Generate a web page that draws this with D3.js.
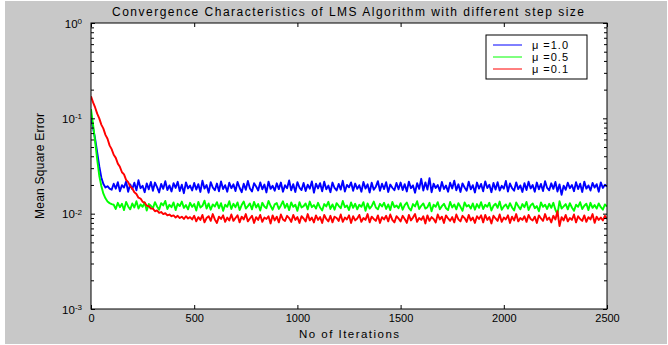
<!DOCTYPE html>
<html>
<head>
<meta charset="utf-8">
<script src="https://cdn.jsdelivr.net/npm/d3@7"></script>
<style>
  body { margin: 0; background: #fff; }
  svg { display: block; font-family: "Liberation Sans", Arial, sans-serif; }
</style>
</head>
<body>
<div id="chart"></div>
<script>
// iteration step between samples
const iterStep = 10;

// mean square error, in units of 1e-4, one value every 10 iterations (0..2500)
const mseMu10 = [
  1030, 790, 610, 440, 315, 240, 205, 188, 194, 183,
  178, 206, 183, 214, 172, 199, 188, 217, 170, 203, 181, 211, 176, 224, 185, 196, 168, 208, 180, 215,
  174, 212, 190, 167, 205, 182, 219, 177, 198, 171, 209, 186, 216, 173, 201, 164, 213, 184, 197, 175,
  210, 179, 204, 169, 222, 183, 200, 166, 214, 188, 176, 207, 172, 218, 181, 199, 170, 211, 185, 203,
  173, 215, 187, 168, 206, 178, 220, 184, 171, 209, 193, 175, 213, 180, 202, 167, 217, 182, 196, 174,
  208, 181, 212, 170, 199, 185, 223, 176, 204, 169, 214, 188, 177, 210, 173, 201, 183, 218, 166, 206,
  184, 209, 172, 216, 180, 197, 168, 212, 186, 175, 205, 179, 221, 171, 200, 189, 213, 174, 207, 182,
  199, 170, 215, 183, 203, 167, 211, 178, 192, 219, 174, 206, 181, 214, 169, 202, 187, 176, 210, 180,
  212, 177, 204, 171, 217, 185, 198, 166, 209, 182, 232, 175, 213, 179, 236, 168, 206, 186, 200, 173,
  215, 181, 197, 170, 211, 184, 222, 176, 203, 169, 208, 188, 174, 216, 180, 199, 167, 212, 183, 205,
  172, 218, 186, 201, 168, 210, 179, 214, 175, 196, 183, 220, 171, 207, 185, 174, 213, 181, 198, 169,
  209, 177, 216, 184, 200, 170, 212, 180, 205, 173, 219, 186, 176, 208, 182, 215, 171, 203, 158, 197,
  178, 211, 185, 200, 172, 214, 181, 206, 169, 217, 183, 198, 175, 210, 188, 204, 170, 213, 186, 201,
  192
];

const mseMu05 = [
  1250, 860, 570, 370, 250, 195, 162, 145, 134, 129, 126, 124,
  112, 130, 117, 127, 109, 133, 119, 111, 128, 116, 135, 113, 125, 118, 131, 108, 126, 121,
  114, 132, 119, 110, 129, 122, 136, 112, 124, 117, 131, 109, 127, 120, 134, 115, 123, 111, 130, 118,
  126, 108, 133, 116, 121, 137, 113, 128, 110, 125, 119, 132, 114, 129, 107, 124, 118, 135, 112, 127,
  117, 131, 109, 123, 134, 113, 120, 128, 111, 133, 116, 126, 108, 130, 119, 114, 136, 121, 110, 125,
  129, 112, 122, 135, 115, 127, 109, 131, 118, 124, 107, 132, 116, 120, 128, 111, 134, 117, 123, 113,
  130, 116, 108, 126, 119, 133, 112, 125, 110, 129, 121, 114, 136, 117, 122, 109, 131, 115, 127, 111,
  124, 118, 132, 107, 128, 113, 120, 134, 116, 111, 127, 119, 130, 112, 125, 109, 133, 117, 122, 114,
  129, 110, 123, 131, 115, 108, 126, 119, 135, 112, 121, 128, 113, 117, 130, 106, 124, 118, 132, 111,
  120, 127, 114, 109, 133, 116, 125, 111, 129, 118, 107, 131, 119, 123, 113, 128, 110, 126, 115, 132,
  112, 124, 118, 130, 108, 121, 127, 115, 134, 110, 119, 125, 113, 129, 116, 108, 131, 120, 111, 126,
  117, 133, 109, 122, 128, 114, 120, 106, 131, 118, 124, 112, 127, 115, 130, 110, 99, 135, 113, 119,
  126, 111, 129, 116, 107, 124, 118, 132, 112, 121, 127, 109, 130, 115, 123, 113, 128, 117, 110, 125,
  119
];

const mseMu01 = [
  1700, 1470, 1300, 1120, 1000, 860, 780, 670, 610, 520,
  475, 415, 385, 335, 310, 272, 258, 226, 214, 193,
  184, 168, 161, 147, 144, 133, 131, 121, 120, 113,
  113, 106, 108, 102, 104, 99, 101, 96, 98, 94,
  96, 91, 95, 90, 93, 88, 94, 89, 92, 87,
  95, 83, 92, 86, 97, 81, 90, 94, 84, 99, 87, 80, 93, 88, 96, 82, 91, 85, 98, 84,
  90, 96, 81, 93, 87, 99, 83, 89, 95, 80, 92, 86, 97, 82, 91, 88, 94, 79, 96, 85,
  93, 81, 98, 87, 84, 95, 90, 82, 97, 86, 92, 80, 94, 89, 83, 99, 85, 91, 81, 96,
  86, 92, 80, 97, 88, 83, 95, 81, 93, 90, 84, 98, 82, 91, 87, 96, 80, 94, 85, 89,
  97, 82, 90, 86, 99, 81, 93, 88, 84, 96, 80, 92, 87, 95, 83, 98, 86, 81, 94, 89,
  83, 95, 88, 80, 97, 85, 91, 99, 82, 90, 86, 94, 79, 96, 84, 92, 88, 81, 98, 87,
  93, 80, 96, 89, 84, 92, 81, 98, 87, 83, 95, 90, 82, 97, 85, 91, 80, 94, 88, 96,
  81, 97, 86, 92, 79, 95, 89, 84, 98, 82, 91, 87, 96, 80, 93, 85, 99, 83, 90, 86,
  94, 82, 97, 88, 85, 93, 80, 96, 89, 84, 99, 86, 91, 81, 95, 87, 106, 74, 92, 85,
  97, 83, 90, 86, 98, 81, 94, 88, 84, 96, 82, 92, 87, 99, 80, 93, 86, 91, 85, 95,
  88
];

const seriesNames = ['\u03bc =1.0', '\u03bc =0.5', '\u03bc =0.1'];
const seriesColors = ['#0000ff', '#00ff00', '#ff0000'];
const xTicks = [0, 500, 1000, 1500, 2000, 2500];
const yDecades = [1e-3, 1e-2, 1e-1, 1e0];

const width = 668, height = 345;
const margin = { top: 23, right: 61, bottom: 36, left: 91 };
const w = width - margin.left - margin.right,
    h = height - margin.top - margin.bottom;
const font = 'Liberation Sans, Arial, sans-serif';

const svg = d3.select('#chart').append('svg')
    .attr('width', width)
    .attr('height', height);

// figure background
svg.append('rect')
    .attr('x', 5).attr('y', 1)
    .attr('width', 662).attr('height', 343)
    .attr('fill', '#c8c8c8');

const g = svg.append('g')
    .attr('transform', `translate(${margin.left},${margin.top})`);

g.append('rect')
    .attr('width', w).attr('height', h)
    .attr('fill', '#fff');

const x = d3.scaleLinear().domain([0, 2500]).range([0, w]);
const y = d3.scaleLog().domain([1e-3, 1]).range([h, 0]);

g.append('clipPath').attr('id', 'clip')
    .append('rect').attr('width', w).attr('height', h);

const series = [mseMu10, mseMu05, mseMu01].map((vals, k) => ({
    name: seriesNames[k],
    color: seriesColors[k],
    values: vals.map((v, i) => ({ it: i * iterStep, mse: v * 1e-4 }))
}));

const line = d3.line()
    .x(d => x(d.it))
    .y(d => y(d.mse));

g.append('g').attr('clip-path', 'url(#clip)')
    .selectAll('path')
    .data(series)
    .enter().append('path')
    .attr('d', d => line(d.values))
    .attr('fill', 'none')
    .attr('stroke', d => d.color)
    .attr('stroke-width', 1.9)
    .attr('stroke-linejoin', 'round');

// axes (ticks point inward, box on)
const minorTicks = y.ticks().filter(t => !yDecades.some(d => Math.abs(d - t) < t * 1e-6));

const xAxis = g.append('g')
    .attr('transform', `translate(0,${h})`)
    .call(d3.axisBottom(x).tickValues(xTicks).tickFormat(d3.format('d'))
        .tickSizeInner(-4).tickSizeOuter(0).tickPadding(5));
g.append('g')
    .call(d3.axisTop(x).tickValues(xTicks).tickSizeInner(-4).tickSizeOuter(0).tickFormat(''));

const yAxis = g.append('g')
    .call(d3.axisLeft(y).tickValues(yDecades).tickSizeInner(-4).tickSizeOuter(0).tickFormat(''));
g.append('g')
    .attr('transform', `translate(${w},0)`)
    .call(d3.axisRight(y).tickValues(yDecades).tickSizeInner(-4).tickSizeOuter(0).tickFormat(''));
g.append('g')
    .call(d3.axisLeft(y).tickValues(minorTicks).tickSizeInner(-3).tickSizeOuter(0).tickFormat(''));
g.append('g')
    .attr('transform', `translate(${w},0)`)
    .call(d3.axisRight(y).tickValues(minorTicks).tickSizeInner(-3).tickSizeOuter(0).tickFormat(''));

g.selectAll('.domain').remove();
g.selectAll('.tick line').attr('stroke', '#000');
xAxis.selectAll('.tick text')
    .attr('font-size', 11)
    .attr('fill', '#000')
    .attr('font-family', font);

// y labels as 10 with superscript exponent
yAxis.selectAll('.tick').each(function (d) {
    const t = d3.select(this).append('text')
        .attr('x', -9)
        .attr('dy', '0.35em')
        .attr('text-anchor', 'end')
        .attr('fill', '#000')
        .attr('font-size', 11.5)
        .attr('font-family', font);
    t.append('tspan').text('10');
    t.append('tspan')
        .attr('dy', '-0.45em')
        .attr('font-size', 8)
        .text(Math.round(Math.log10(d)));
});

g.append('rect')
    .attr('width', w).attr('height', h)
    .attr('fill', 'none')
    .attr('stroke', '#000')
    .attr('stroke-width', 1);

// title and axis labels
svg.append('text')
    .attr('x', 348)
    .attr('y', 16)
    .attr('text-anchor', 'middle')
    .attr('font-size', 12)
    .attr('textLength', 472)
    .attr('lengthAdjust', 'spacing')
    .text('Convergence Characteristics of LMS Algorithm with different step size');

svg.append('text')
    .attr('x', margin.left + w / 2)
    .attr('y', 338)
    .attr('text-anchor', 'middle')
    .attr('font-size', 11.5)
    .attr('textLength', 100)
    .attr('lengthAdjust', 'spacing')
    .text('No of Iterations');

svg.append('text')
    .attr('transform', `translate(44,${margin.top + h / 2}) rotate(-90)`)
    .attr('text-anchor', 'middle')
    .attr('font-size', 12)
    .attr('textLength', 106)
    .attr('lengthAdjust', 'spacing')
    .text('Mean Square Error');

// legend
const legend = g.append('g')
    .attr('transform', `translate(${486 - margin.left},${35 - margin.top})`);
legend.append('rect')
    .attr('width', 101).attr('height', 44)
    .attr('fill', '#fff')
    .attr('stroke', '#000');
const item = legend.selectAll('.item')
    .data(series)
    .enter().append('g')
    .attr('class', 'item')
    .attr('transform', (d, i) => `translate(0,${10 + i * 12})`);
item.append('line')
    .attr('x1', 7).attr('x2', 36)
    .attr('stroke', d => d.color);
item.append('text')
    .attr('x', 46)
    .attr('dy', '0.35em')
    .attr('font-size', 11)
    .attr('textLength', 36)
    .attr('lengthAdjust', 'spacing')
    .text(d => d.name);
</script>
</body>
</html>
